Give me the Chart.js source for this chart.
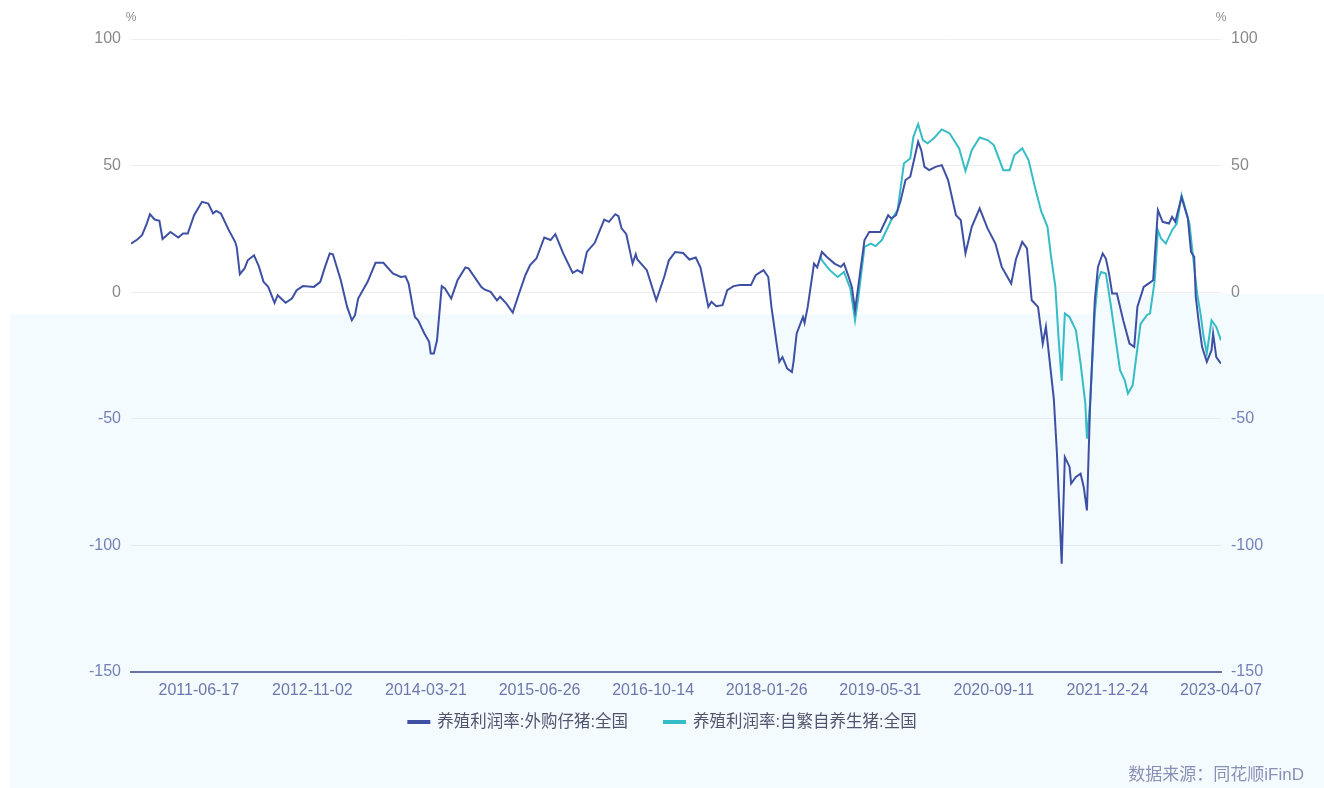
<!DOCTYPE html>
<html>
<head>
<meta charset="utf-8">
<script src="https://cdn.jsdelivr.net/npm/chart.js@4.4.1/dist/chart.umd.min.js"></script>
<style>
  html, body { margin: 0; padding: 0; background: #fff; }
  #wrap { width: 1324px; height: 788px; position: relative; }
</style>
</head>
<body>
<div id="wrap"><canvas id="c"></canvas></div>
<script>
const FONT = 'Arial, "Liberation Sans", "Noto Sans CJK SC", sans-serif';

// x = weekly observation number (0 = first week shown), y = %
const tickIdx = [43, 115, 187, 259, 331, 403, 475, 547, 619, 691];
const tickLabels = ["2011-06-17", "2012-11-02", "2014-03-21", "2015-06-26", "2016-10-14",
  "2018-01-26", "2019-05-31", "2020-09-11", "2021-12-24", "2023-04-07"];

const seriesNames = ["养殖利润率:外购仔猪:全国", "养殖利润率:自繁自养生猪:全国"];
const seriesColors = ["#3e50a4", "#36bcc6"];

const buyIdx = [0,4,7,10,12,15,18,20,25,30,33,36,40,45,49,52,54,57,62,66,67,69,72,74,78,81,84,87,91,93,
  98,102,105,109,116,120,123,126,128,133,137,140,142,144,150,155,160,166,171,174,176,179,180,182,186,189,190,192,194,197,
  199,203,207,212,214,222,224,228,232,234,238,242,246,250,253,257,262,266,269,274,280,283,286,289,294,300,303,307,309,311,
  314,318,320,321,327,333,338,341,345,350,354,358,361,366,368,371,375,378,382,386,393,396,401,404,406,409,411,413,416,419,
  420,422,426,427,429,433,435,438,441,446,450,452,455,457,459,461,465,468,475,480,482,485,488,491,494,499,501,503,506,510,
  514,518,523,526,529,533,538,543,548,552,558,561,565,568,571,575,578,580,585,587,590,592,595,596,599,602,604,606,608,611,
  613,616,618,620,622,625,629,633,636,638,642,645,648,651,654,658,660,662,666,670,672,674,675,677,679,682,685,686,688,691];
const buyVal = [19.2,20.8,22.5,27.1,30.8,28.7,28.2,21.0,23.8,21.6,23.2,23.2,30.4,35.7,35.0,31.1,32.1,31.1,24.5,19.9,17.9,7.1,9.4,12.6,14.6,10.3,4.1,2.1,-4.2,-1.2,
  -4.2,-2.5,0.8,2.4,2.1,4.1,10.0,15.3,15.0,4.7,-5.8,-11.1,-9.1,-2.5,4.1,11.6,11.6,7.4,6.0,6.3,3.4,-7.1,-9.8,-11.1,-16.3,-19.6,-24.2,-24.2,-19.0,2.4,
  1.5,-2.5,4.7,9.8,9.4,2.1,1.1,0.1,-3.2,-1.8,-4.5,-8.0,-0.5,6.7,10.7,13.3,21.6,20.6,22.9,15.3,7.6,8.7,7.6,15.9,19.5,28.7,27.8,30.8,30.0,25.2,
  22.9,11.3,15.0,12.9,8.7,-3.2,6.0,12.6,15.9,15.5,12.9,13.7,9.8,-5.8,-3.8,-5.5,-5.1,0.8,2.4,2.8,2.8,6.7,8.7,6.0,-5.8,-19.0,-27.5,-25.6,-30.2,-31.5,
  -27.5,-16.3,-9.8,-12.1,-5.8,11.3,9.8,15.9,14.0,11.3,10.0,11.3,6.0,2.1,-7.1,2.1,20.6,23.8,23.8,30.4,29.1,30.4,36.4,44.3,45.6,59.4,56.1,49.5,48.2,49.5,
  50.2,44.3,30.4,28.5,15.3,25.8,33.1,25.2,19.2,10.0,3.4,13.0,19.9,17.3,-3.2,-5.8,-20.3,-13.7,-42.0,-63.8,-107.2,-65.1,-69.0,-75.6,-73.0,-71.7,-77.0,-86.2,-45.0,-3.2,
  10.0,15.3,13.3,7.4,-0.5,-0.5,-11.1,-20.3,-21.6,-5.8,2.1,3.4,4.7,32.4,27.8,27.1,29.8,27.8,37.5,29.1,15.9,14.0,-1.8,-12.4,-21.6,-27.5,-22.9,-16.3,-25.6,-28.2];

const ownIdx = [437,438,443,448,452,456,459,461,465,469,472,476,482,486,490,494,496,499,502,505,
  509,514,519,525,529,533,538,543,547,553,557,560,565,569,573,577,581,583,586,588,
  590,592,595,599,602,605,606,608,611,613,615,618,621,624,627,630,632,635,637,640,
  644,646,649,651,653,656,660,663,666,671,674,676,678,680,682,685,688,691];
const ownVal = [14.5,12.6,8.7,6.0,8.0,1.5,-11.1,-2.5,17.9,19.2,18.2,20.6,28.5,32.4,50.9,52.8,61.4,66.4,60.1,58.8,
  60.8,64.3,62.7,56.8,47.9,56.1,61.1,60.1,58.1,48.2,48.2,54.2,56.8,52.2,41.6,32.0,25.8,15.3,2.1,-17.7,
  -35.0,-8.4,-9.8,-15.0,-28.2,-44.0,-57.8,-44.0,-8.4,4.7,8.0,7.4,-4.5,-17.7,-30.8,-34.8,-40.0,-36.8,-26.9,-12.5,
  -9.1,-8.4,4.7,24.5,21.2,19.2,24.5,27.1,38.3,27.1,10.0,-1.2,-8.4,-17.7,-24.2,-11.1,-13.7,-19.0];

const pairs = (xs, ys) => xs.map((x, i) => ({ x, y: ys[i] }));
const tickColor = (c) => (c.tick && c.tick.value < 0 ? "#7482b6" : "#8a8a8a");
const gridColor = (c) => (c.tick && c.tick.value < 0 ? "#e2ecf8" : "#eeeeee");

// legend drawn by hand: the built-in one ties item gap to its vertical padding
function drawLegend(chart) {
  const g = chart.ctx;
  const box = 23, gap = 7, between = 35, y = 722;
  g.font = "16.5px " + FONT;
  const widths = seriesNames.map((s) => box + gap + g.measureText(s).width);
  let x = chart.width / 2 - (widths[0] + between + widths[1]) / 2;
  seriesNames.forEach((s, i) => {
    g.fillStyle = seriesColors[i];
    g.fillRect(x, y - 2, box, 4);
    g.fillStyle = "#50556e";
    g.textAlign = "left";
    g.textBaseline = "middle";
    g.fillText(s, x + box + gap, y);
    x += widths[i] + between;
  });
}

const paper = {
  id: "paper",
  beforeDraw(chart) {
    const g = chart.ctx;
    g.save();
    g.fillStyle = "#ffffff";
    g.fillRect(0, 0, chart.width, chart.height);
    // light blue panel behind the lower half
    g.fillStyle = "#f4fbff";
    g.fillRect(10, 314, chart.width - 10, chart.height - 314);
    g.fillRect(1094, 294, chart.width - 1094, 20);
    g.restore();
  },
  afterDraw(chart) {
    const g = chart.ctx, a = chart.chartArea;
    g.save();
    g.font = "12px " + FONT;
    g.fillStyle = "#8a8a8a";
    g.textAlign = "center";
    g.textBaseline = "middle";
    g.fillText("%", a.left, 18);
    g.fillText("%", a.right, 18);
    drawLegend(chart);
    g.font = "17px " + FONT;
    g.fillStyle = "#8990b5";
    g.textAlign = "right";
    g.textBaseline = "middle";
    g.fillText("数据来源：同花顺iFinD", 1304, 775);
    g.restore();
  },
};

const yTicks = { stepSize: 50, padding: 10, color: tickColor, font: { size: 16, family: FONT } };

new Chart(document.getElementById("c"), {
  type: "line",
  data: {
    datasets: [
      { label: seriesNames[0], data: pairs(buyIdx, buyVal), borderColor: seriesColors[0], borderWidth: 2, pointRadius: 0, tension: 0 },
      { label: seriesNames[1], data: pairs(ownIdx, ownVal), borderColor: seriesColors[1], borderWidth: 2, pointRadius: 0, tension: 0 },
    ],
  },
  options: {
    responsive: true,
    maintainAspectRatio: false,
    animation: false,
    layout: { padding: { top: 39, left: 0, right: 0, bottom: 86 } },
    plugins: {
      tooltip: { enabled: false },
      legend: { display: false },
    },
    scales: {
      x: {
        type: "linear",
        min: 0,
        max: 691,
        afterBuildTicks: (s) => { s.ticks = tickIdx.map((v) => ({ value: v })); },
        ticks: {
          autoSkip: false, maxRotation: 0, padding: 9, color: "#6c77ab",
          font: { size: 16, family: FONT },
          callback: (v) => tickLabels[tickIdx.indexOf(v)],
        },
        grid: { display: false, drawTicks: false },
        border: { color: "#6a72a8", width: 2 },
        afterFit: (s) => { s.height = 30; },
      },
      y: {
        position: "left",
        min: -150,
        max: 100,
        ticks: yTicks,
        grid: { color: gridColor, drawTicks: false },
        border: { display: false },
        afterFit: (s) => { s.width = 131; },
      },
      y2: {
        position: "right",
        min: -150,
        max: 100,
        ticks: yTicks,
        grid: { display: false, drawTicks: false },
        border: { display: false },
        afterFit: (s) => { s.width = 103; },
      },
    },
  },
  plugins: [paper],
});
</script>
</body>
</html>
